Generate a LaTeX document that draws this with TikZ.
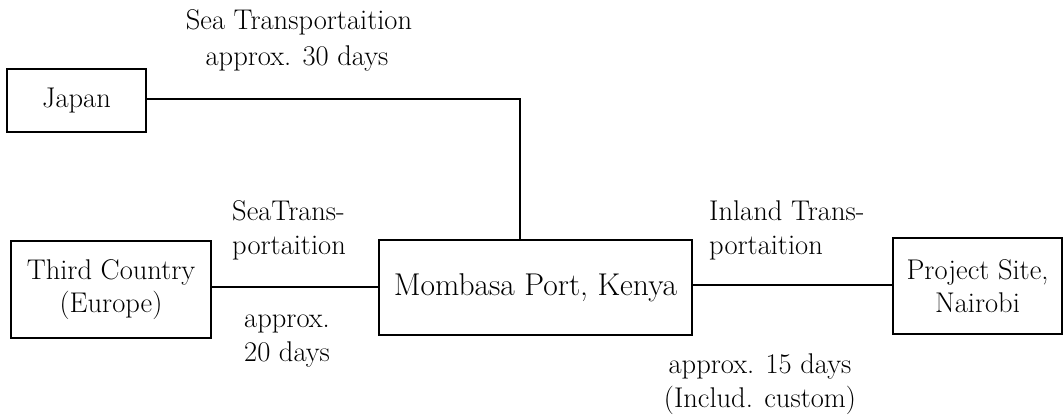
\documentclass[tikz,border=0pt]{standalone}
\begin{document}
\begin{tikzpicture}[x=1pt,y=-1pt,
  box/.style={draw,line width=1.6pt,rectangle,inner sep=0pt,align=center,
    font=\fontsize{28.5}{33}\selectfont},
  lbl/.style={inner sep=0pt,font=\fontsize{28.5}{34}\selectfont},
  link/.style={line width=1.4pt}]
\useasboundingbox (0,0) rectangle (1064,416);
% boxes
\node[box,minimum width=139pt,minimum height=63pt] (jp) at (76.5,100.5) {Japan};
\node[box,minimum width=200pt,minimum height=97pt] (tc) at (111,289.5) {Third Country\\(Europe)};
\node[box,minimum width=313pt,minimum height=95pt,font=\fontsize{31.5}{33}\selectfont] (mb) at (535.5,287.5) {Mombasa Port, Kenya};
\node[box,minimum width=169pt,minimum height=96pt] (ps) at (977.5,286) {Project Site,\\Nairobi};
% connectors
\coordinate (bend) at (520,99);
\draw[link] (jp.east |- bend) -- (bend) -- (bend |- mb.north);
\draw[link] (tc.east |- 0,287) -- (mb.west |- 0,287);
\draw[link] (mb.east |- 0,285) -- (ps.west |- 0,285);
% route labels
\node[lbl] (l1) at (299,22) {Sea Transportaition};
\node[lbl] (l2) at (297,58) {approx. 30 days};
\node[lbl,align=left,anchor=west] (l3) at (232,230) {SeaTrans-\\portaition};
\node[lbl,align=left,anchor=west] (l4) at (244,341) {approx.\\20 days};
\node[lbl,align=left,anchor=west] (l5) at (709,230) {Inland Trans-\\portaition};
\node[lbl,align=center] (l6) at (760,384) {approx. 15 days\\(Includ. custom)};
\end{tikzpicture}
\end{document}
